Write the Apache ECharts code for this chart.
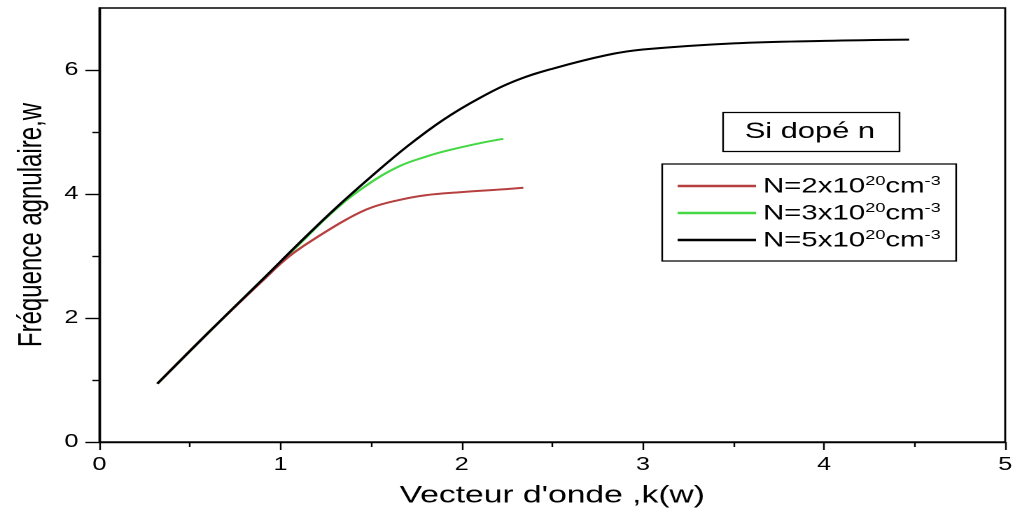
<!DOCTYPE html>
<html lang="fr">
<head>
    <meta charset="UTF-8">
    <title>Si dopé n</title>
    <script src="https://cdn.jsdelivr.net/npm/echarts@6/dist/echarts.min.js"></script>
    <style>
        html, body { margin: 0; background: #fff; overflow: hidden; }
        /* la figure d'origine est étirée horizontalement : on dessine à 726px puis on étire x1.4 */
        #chart_wrap { width: 726px; height: 513px; transform: scaleX(1.4); transform-origin: 0 0; }
    </style>
</head>
<body>
<div id="chart_wrap"></div>
<script type="text/javascript">
// courbes : k (vecteur d'onde) -> w (fréquence)
var k_n2 = [0.32, 0.6, 0.9, 1.05, 1.2, 1.37, 1.5, 1.65, 1.8, 2.0, 2.2, 2.34];
var w_n2 = [0.94, 1.76, 2.6, 3.0, 3.3, 3.6, 3.78, 3.9, 3.98, 4.03, 4.07, 4.1];

var k_n3 = [0.32, 0.6, 0.9, 1.1, 1.28, 1.46, 1.65, 1.8, 1.92, 2.1, 2.23];
var w_n3 = [0.94, 1.76, 2.62, 3.18, 3.69, 4.11, 4.44, 4.6, 4.7, 4.82, 4.89];

var k_n5 = [0.32, 0.6, 0.9, 1.1, 1.3, 1.5, 1.7, 1.9, 2.1, 2.3, 2.5, 2.8, 3.0, 3.5, 4.0, 4.47];
var w_n5 = [0.94, 1.76, 2.62, 3.2, 3.76, 4.28, 4.77, 5.2, 5.55, 5.83, 6.02, 6.24, 6.33, 6.43, 6.47, 6.49];

var series_names = ["N=2x10^20cm^-3", "N=3x10^20cm^-3", "N=5x10^20cm^-3"];
var yTicks = [0, 2, 4, 6];
var yMinorTicks = [1, 3, 5];

function pairs(k, w) {
    var out = [];
    for (var i = 0; i < k.length; i++) out.push([k[i], w[i]]);
    return out;
}

var chart = echarts.init(document.getElementById("chart_wrap"), null, {devicePixelRatio: 2});
var font = "Liberation Sans, Arial, sans-serif";

var option = {
    animation: false,
    textStyle: {fontFamily: font},
    title: {
        text: "Si dopé n",
        left: 516,
        top: 112,
        padding: [9, 18, 9, 16],
        borderColor: "#000",
        borderWidth: 1.2,
        textStyle: {fontSize: 22, fontWeight: "normal", color: "#000", fontFamily: font}
    },
    legend: {
        orient: "vertical",
        left: 473,
        top: 164,
        padding: [11, 11, 10, 11],
        itemGap: 5,
        itemWidth: 56,
        itemHeight: 2.5,
        icon: "rect",
        borderColor: "#000",
        borderWidth: 1.2,
        data: series_names,
        formatter: function (name) {
            var p = name.match(/N=(\d)x10\^20cm\^-3/);
            return "{b|N=" + p[1] + "x10}{s|20}{b|cm}{s|-3}";
        },
        textStyle: {
            fontFamily: font,
            rich: {
                b: {fontSize: 21, color: "#000", fontFamily: font, lineHeight: 22, verticalAlign: "bottom"},
                s: {fontSize: 13, color: "#000", fontFamily: font, lineHeight: 22, verticalAlign: "top", padding: [0, 0, 9, 0]}
            }
        }
    },
    grid: {
        left: 71, right: 8, top: 8, bottom: 71,
        show: true,
        borderColor: "#000",
        borderWidth: 1.4
    },
    xAxis: {
        type: "value",
        min: 0, max: 5, interval: 1,
        name: "Vecteur d'onde ,k(w)",
        nameLocation: "middle",
        nameGap: 42,
        nameTextStyle: {fontSize: 24, color: "#000", fontFamily: font},
        axisLine: {lineStyle: {color: "#000", width: 1.4}},
        axisTick: {length: 8, lineStyle: {color: "#000", width: 1.2}},
        minorTick: {show: true, splitNumber: 2, length: 5, lineStyle: {color: "#000", width: 1.2}},
        splitLine: {show: false},
        axisLabel: {fontSize: 18, color: "#000", margin: 14, fontFamily: font}
    },
    yAxis: [
        {
            type: "value",
            min: 0, max: 7,
            name: "Fréquence agnulaire,w",
            nameLocation: "middle",
            nameGap: 36,
            nameTextStyle: {fontSize: 24, color: "#000", fontFamily: font},
            axisLine: {lineStyle: {color: "#000", width: 1.4}},
            axisTick: {length: 10, customValues: yTicks, lineStyle: {color: "#000", width: 1.4}},
            splitLine: {show: false},
            axisLabel: {fontSize: 18, color: "#000", margin: 15, customValues: yTicks, fontFamily: font}
        },
        {
            type: "value",
            min: 0, max: 7,
            position: "left",
            axisLine: {show: false},
            axisTick: {length: 5, customValues: yMinorTicks, lineStyle: {color: "#000", width: 1.4}},
            axisLabel: {show: false},
            splitLine: {show: false}
        }
    ],
    series: [
        {
            name: series_names[0],
            type: "line",
            data: pairs(k_n2, w_n2),
            smooth: 0.4,
            symbol: "none",
            z: 3,
            color: "#b5403f",
            lineStyle: {width: 2, color: "#b5403f"}
        },
        {
            name: series_names[1],
            type: "line",
            data: pairs(k_n3, w_n3),
            smooth: 0.4,
            symbol: "none",
            z: 2,
            color: "#44d844",
            lineStyle: {width: 2, color: "#44d844"}
        },
        {
            name: series_names[2],
            type: "line",
            data: pairs(k_n5, w_n5),
            smooth: 0.4,
            symbol: "none",
            z: 4,
            color: "#000",
            lineStyle: {width: 2, color: "#000"}
        }
    ]
};

chart.setOption(option);
</script>
</body>
</html>
